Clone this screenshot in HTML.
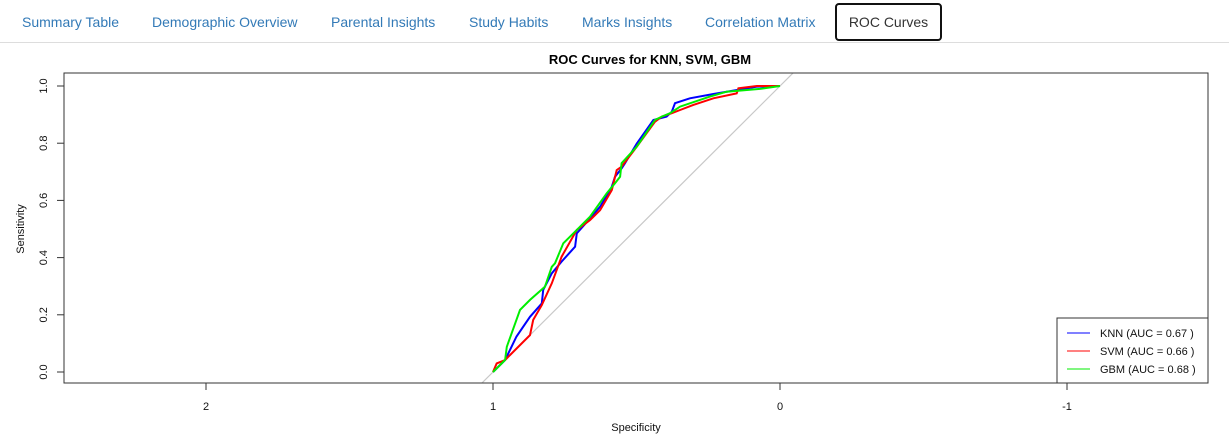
<!DOCTYPE html>
<html><head><meta charset="utf-8"><style>
html,body{margin:0;padding:0;width:1229px;height:445px;overflow:hidden}
body{background:#fff;font-family:"Liberation Sans",Arial,sans-serif;position:relative}
.tabs{position:absolute;left:0;top:0;width:1229px;height:43px;border-bottom:1px solid #ddd;box-sizing:border-box}
.tab{position:absolute;top:3px;height:38px;line-height:38px;font-size:14px;color:#337ab7;padding:0 10px}
.tab.active{border:2px solid #111;border-radius:4px;color:#333;line-height:34px;height:34px;background:#fff}
svg{position:absolute;left:0;top:0;display:block}
</style></head><body>
<div class="tabs">
<div class="tab" style="left:12px">Summary Table</div>
<div class="tab" style="left:142px">Demographic Overview</div>
<div class="tab" style="left:321px">Parental Insights</div>
<div class="tab" style="left:459px">Study Habits</div>
<div class="tab" style="left:572px">Marks Insights</div>
<div class="tab" style="left:695px">Correlation Matrix</div>
<div class="tab active" style="left:835px;width:83px;text-align:center">ROC Curves</div>
</div>
<svg id="chart" width="1229" height="445"></svg>
<script>
const knnSpec=[1,0.958,0.918,0.871,0.830,0.825,0.795,0.761,0.714,0.708,0.662,0.627,0.586,0.575,0.552,0.540,0.499,0.441,0.395,0.377,0.366,0.314,0.232,0.081,0];
const knnSens=[0,0.042,0.124,0.193,0.240,0.287,0.345,0.386,0.438,0.485,0.537,0.578,0.648,0.683,0.712,0.730,0.799,0.881,0.893,0.910,0.940,0.957,0.972,0.998,1];
const svmSpec=[1,0.987,0.958,0.871,0.860,0.830,0.795,0.761,0.708,0.662,0.627,0.586,0.569,0.552,0.499,0.436,0.412,0.377,0.348,0.302,0.232,0.151,0.145,0.081,0];
const svmSens=[0,0.030,0.042,0.129,0.182,0.234,0.310,0.403,0.497,0.531,0.566,0.636,0.706,0.718,0.788,0.875,0.893,0.905,0.916,0.934,0.957,0.974,0.992,1,1];
const gbmSpec=[1,0.958,0.952,0.906,0.871,0.819,0.795,0.784,0.755,0.708,0.662,0.604,0.575,0.557,0.552,0.499,0.436,0.412,0.383,0.348,0.244,0.186,0.070,0];
const gbmSens=[0,0.042,0.088,0.217,0.252,0.298,0.368,0.380,0.450,0.497,0.543,0.625,0.660,0.683,0.730,0.788,0.881,0.893,0.905,0.928,0.963,0.980,0.990,1];
const xTicks=[2,1,0,-1];
const yTicks=[0,0.2,0.4,0.6,0.8,1.0];
const legendLabels=["KNN (AUC = 0.67 )","SVM (AUC = 0.66 )","GBM (AUC = 0.68 )"];
const colors=["#0000ff","#ff0000","#00ee00"];

const NS="http://www.w3.org/2000/svg";
const svg=document.getElementById('chart');
const L=64,R=1208,T=73,B=383;
const xs=v=>780-287*v;
const ys=v=>372-286*v;
function mk(tag,attrs,parent){const e=document.createElementNS(NS,tag);for(const k in attrs)e.setAttribute(k,attrs[k]);(parent||svg).appendChild(e);return e;}
const defs=mk('defs',{});
const cp=mk('clipPath',{id:'clip'},defs);
mk('rect',{x:L,y:T,width:R-L,height:B-T},cp);
const diag=mk('line',{x1:xs(2.5),y1:ys(-1.5),x2:xs(-1.5),y2:ys(2.5),stroke:'#c8c8c8','stroke-width':1.2,'clip-path':'url(#clip)'});


const series=[[knnSpec,knnSens,'knn-curve'],[svmSpec,svmSens,'svm-curve'],[gbmSpec,gbmSens,'gbm-curve']];
series.forEach((s,i)=>{
 const d=s[0].map((v,j)=>(j?'L':'M')+xs(v).toFixed(1)+','+ys(s[1][j]).toFixed(1)).join(' ');
 const p=mk('path',{d:d,fill:'none',stroke:colors[i],'stroke-width':2,'clip-path':'url(#clip)'});
 
 
});
const box=mk('rect',{x:L,y:T,width:R-L,height:B-T,fill:'none',stroke:'#333','stroke-width':1});


xTicks.forEach(t=>{
 mk('line',{x1:xs(t),x2:xs(t),y1:B,y2:B+7,stroke:'#333'});
 const tx=mk('text',{x:xs(t),y:B+27,'text-anchor':'middle','font-size':11,fill:'#111'});
 tx.textContent=t;
 
 
});
yTicks.forEach(t=>{
 mk('line',{x1:L,x2:L-7,y1:ys(t),y2:ys(t),stroke:'#333'});
 const tx=mk('text',{x:0,y:0,'text-anchor':'middle','font-size':11,fill:'#111',transform:`translate(47,${ys(t)}) rotate(-90)`});
 tx.textContent=t.toFixed(1);
 
 
});
const title=mk('text',{x:650,y:64,'text-anchor':'middle','font-size':13,'font-weight':'bold',fill:'#000'});
title.textContent='ROC Curves for KNN, SVM, GBM';


const xl=mk('text',{x:636,y:431,'text-anchor':'middle','font-size':11,fill:'#111'});
xl.textContent='Specificity';


const yl=mk('text',{x:0,y:0,'text-anchor':'middle','font-size':11,fill:'#111',transform:'translate(24,229) rotate(-90)'});
yl.textContent='Sensitivity';


const lg=mk('g',{});


mk('rect',{x:1057,y:318,width:151,height:65,fill:'#fff',stroke:'#333'},lg);
legendLabels.forEach((lab,i)=>{
 const y=333+18*i;
 mk('line',{x1:1067,x2:1090,y1:y,y2:y,stroke:colors[i],'stroke-width':1},lg);
 const t=mk('text',{x:1100,y:y+4,'font-size':11,fill:'#111'},lg);
 t.textContent=lab;
 
 
});
</script>
</body></html>
